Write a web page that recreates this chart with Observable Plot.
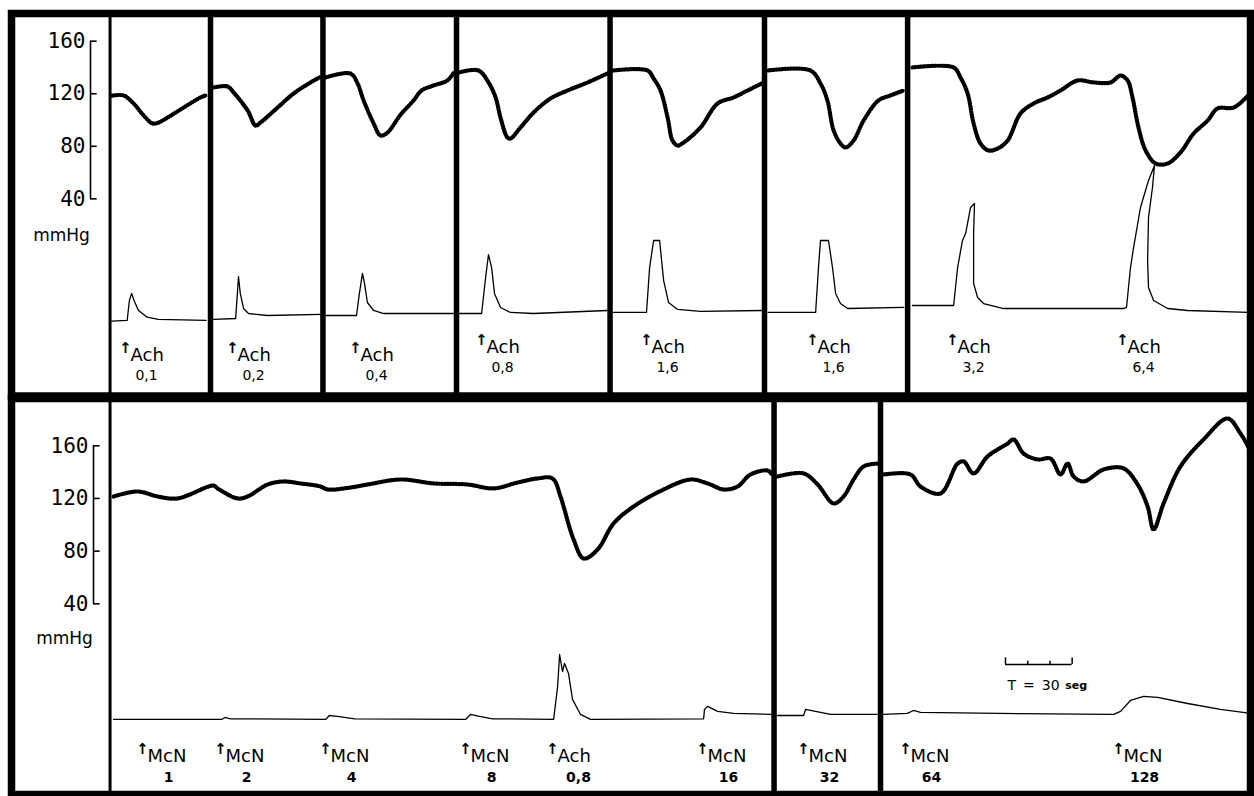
<!DOCTYPE html>
<html><head><meta charset="utf-8">
<script src="https://cdn.jsdelivr.net/npm/d3@7"></script>
<script src="https://cdn.jsdelivr.net/npm/@observablehq/plot@0.6"></script>
<style>
html,body{margin:0;padding:0;background:#fff;}
#fig{position:relative;width:1254px;height:796px;overflow:hidden;background:#fff;}
#fig svg{position:absolute;left:0;}
</style></head><body><div id="fig"></div>
<script>
// ---- Data (time along the strip in seconds, pressure in mmHg) ----
// each row: [recording segment, time s, value]
const topPressure = [
 [1,0.5,118.5],[1,5.9,118.7],[1,10.4,112.6],[1,14.9,103.5],[1,18.9,97.4],[1,21.5,98],[1,25.7,101.9],[1,32.9,109.5],[1,40.5,117.2],[1,42.8,118.7],
 [2,46.4,124.8],[2,52.7,125.5],[2,55.4,121],[2,61.7,107.3],[2,65.3,95.8],[2,67.5,98.1],[2,75.2,109.5],[2,82.4,120.2],[2,90,128.6],[2,94,132.4],
 [3,96.8,132.4],[3,108,135.4],[3,111.2,127.8],[3,113.9,114.9],[3,118.4,97.4],[3,121.5,88.2],[3,124.7,90.5],[3,130.5,104],[3,136.4,114.9],[3,140,122.5],[3,145.4,126.3],[3,151.6,130.1],[3,154.5,136.2],
 [4,156.8,136.2],[4,165.6,137.7],[4,170.1,128.6],[4,173.3,117.2],[4,175.5,101.9],[4,178.6,86.7],[4,180,85.9],[4,184.5,94.3],[4,190.4,105.7],[4,198,116.4],[4,205.7,122.5],[4,214.7,128.6],[4,223.5,135.4],
 [5,226.4,137.7],[5,241.7,137.7],[5,244.4,131.6],[5,247.5,122.5],[5,250.7,101.9],[5,252.9,84.4],[5,255.2,80.6],[5,257.9,82.9],[5,265.5,94.3],[5,273.2,112.6],[5,280.4,117.2],[5,286.7,122.5],[5,293,127.8],
 [6,295.9,137.7],[6,315,137.7],[6,319.5,127.8],[6,322.6,114.9],[6,325.4,92],[6,328.5,82.1],[6,330.8,79.1],[6,334.4,84.4],[6,338.9,99.6],[6,345.6,114.9],[6,351,118.7],[6,357,122.5],
 [7,360.9,140],[7,379.4,140],[7,382.5,132.4],[7,385.7,120.2],[7,388.4,97.4],[7,391.5,82.1],[7,395.1,76.8],[7,399.2,78.3],[7,403.7,84.4],[7,409.5,105],[7,415.4,112.6],[7,421.7,117.2],[7,427.5,122.5],[7,435.2,130.1],[7,442.4,128.6],[7,450,128.6],[7,454.5,133.9],[7,457.7,130.1],[7,459.9,117.2],[7,462.6,94.3],[7,465.8,76.8],[7,470.3,66.9],[7,475.7,66.9],[7,481.5,75.3],[7,487.4,89.7],[7,493.7,99.6],[7,498.2,108.8],[7,505.4,109.5],[7,512,118.7]
];
// lower channel (response deflection, arbitrary units above its own baseline)
const topResponse = [
 [1,0.5,-0.5],[1,7.5,0],[1,8.5,15.2],[1,9.5,20.6],[1,10.6,15.2],[1,12.6,7.6],[1,16.5,2.5],[1,21.5,0.8],[1,43,0],
 [2,46.4,0.8],[2,56.3,1.5],[2,57.1,20.6],[2,57.6,33.5],[2,58.4,20.6],[2,59.9,9.1],[2,62.1,5.3],[2,70.7,3.8],[2,94.5,4.6],
 [3,96.8,3.8],[3,110.7,3.8],[3,112,20.6],[3,113.4,35.8],[3,114.3,28.2],[3,115.6,13.7],[3,118.4,7.6],[3,122.9,5.3],[3,154.5,5.3],
 [4,156.8,5.3],[4,167,5.3],[4,168.8,32.7],[4,170.1,50.2],[4,171.5,40.3],[4,172.8,20.6],[4,175.5,9.9],[4,180,6.1],[4,190.4,5.3],[4,223.5,7.6],
 [5,226.4,6.1],[5,241.2,6.1],[5,242.6,40.3],[5,244.4,60.9],[5,247.1,60.9],[5,248.9,30.5],[5,251.1,13.7],[5,255.2,8.4],[5,265.5,6.9],[5,293,7.6],
 [6,295.9,6.1],[6,317.3,6.1],[6,318.6,40.3],[6,319.5,60.9],[6,323.1,60.9],[6,324.9,40.3],[6,326.3,20.6],[6,328.5,12.9],[6,331.7,9.1],[6,357,9.9],
 [7,360.9,11.4],[7,379.4,11.4],[7,381.2,40.3],[7,383.4,60.9],[7,384.8,66.2],[7,387,86],[7,388.8,89.1],[7,388.4,66.2],[7,388.4,28.2],[7,390.2,17.5],[7,392.9,12.9],[7,401.9,9.1],[7,455.9,9.1],[7,457.2,9.9],[7,459,40.3],[7,460.4,55.6],[7,463.5,86],[7,467.1,106.6],[7,469.8,118],[7,468.9,101.3],[7,467.1,78.4],[7,466.7,45.7],[7,467.1,25.1],[7,469.4,15.2],[7,475.7,9.1],[7,484.7,7.6],[7,512,6.1]
];
const topSplices = [-0.2, 45, 95.6, 155.7, 224.8, 294.3, 358.7];
const topInjTime = [6.75, 54.9, 110.25, 166.95, 241.2, 315.9, 378.9, 455.4];
const topInjDrug = ["Ach","Ach","Ach","Ach","Ach","Ach","Ach","Ach"];
const topInjDose = ["0,1","0,2","0,4","0,8","1,6","1,6","3,2","6,4"];

const bottomPressure = [
 [1,1.4,121.5],[1,12.2,125.3],[1,21.2,121.5],[1,30.2,120],[1,46.4,129.8],[1,48.2,127.6],[1,57.2,120],[1,61.7,121.5],[1,70.7,130.6],[1,77.9,132.9],[1,85.5,131.4],[1,94.5,129.1],[1,97.7,126.8],[1,108,128.3],[1,115.7,130.6],[1,130.5,134.4],[1,145.4,131.4],[1,160.7,130.6],[1,172.4,127.6],[1,183.2,132.1],[1,192.2,135.2],[1,198.9,135.2],[1,202.5,121.5],[1,203.9,113.9],[1,208.4,88.8],[1,212.9,74.4],[1,219.2,81.2],[1,226.4,101],[1,235.4,113.9],[1,248.9,126.8],[1,261,134.4],[1,268.7,131.4],[1,275.9,126.8],[1,282.2,129.1],[1,288,138.2],[1,295.7,141.2],[1,297.5,138.5],
 [2,300.2,136.7],[2,311.9,139],[2,318.2,130.6],[2,325.4,116.2],[2,329.9,121.5],[2,334.4,134.4],[2,338.9,144.3],[2,345,146.5],
 [3,347.9,138.2],[3,360,138.2],[3,364.5,129.1],[3,373.5,123.8],[3,381.2,146.5],[3,383.9,148.1],[3,388.4,139],[3,394.7,151.9],[3,403.7,161.7],[3,406.4,164.8],[3,410.9,154.1],[3,417.2,149.6],[3,423,150.3],[3,427.5,138.2],[3,430.7,146.5],[3,433.4,136.7],[3,437.9,132.9],[3,446.9,142],[3,455.9,142.8],[3,462.2,130.6],[3,466.7,113.9],[3,469.4,96.4],[3,473.9,116.2],[3,481.5,144.3],[3,491.9,164.8],[3,502.7,180.7],[3,508.5,169.3],[3,513,156]
];
const bottomResponse = [
 [1,1.4,0],[1,50,0],[1,51.5,1.5],[1,54,0.5],[1,96.8,0],[1,98.5,3],[1,102,2.3],[1,110,0.5],[1,159.8,0],[1,162,3.8],[1,166,2.3],[1,172,0.5],[1,199.4,0],[1,201.2,25],[1,202.1,49.3],[1,203.4,36.4],[1,204.3,42.5],[1,206.1,34.9],[1,207.9,15.2],[1,211.5,3.8],[1,216,0],[1,266.9,0.5],[1,267.3,7.6],[1,268.7,9.9],[1,273.2,6.1],[1,280.4,4.6],[1,297.5,3.8],
 [2,300.2,3],[2,311.9,3],[2,312.8,7.6],[2,319.5,5.3],[2,324,3.8],[2,345,3.8],
 [3,347.9,3.8],[3,358.6,4.6],[3,361.4,6.8],[3,364.5,5.3],[3,400,4.6],[3,451.4,3.8],[3,454.5,6.1],[3,459,14.4],[3,464.9,17.5],[3,471.2,16.7],[3,484.7,12.1],[3,499.5,7.6],[3,513,4.6]
];
const bottomSplices = [-0.2, 298.6, 346.5];
const bottomInjTime = [14.4, 49.5, 96.75, 159.75, 198.9, 266.4, 311.85, 357.75, 453.6];
const bottomInjDrug = ["McN","McN","McN","McN","Ach","McN","McN","McN","McN"];
const bottomInjDose = ["1","2","4","8","0,8","16","32","64","128"];

const yTicks = [40, 80, 120, 160];
const timeBarStart = 402.75, timeBarTicks = [0, 10, 20, 30];

// ---- Layout ----
const W = 1254;
const X_DOMAIN = [-44.55, 513];
const SANS = "DejaVu Sans";

function panel(o) {
  const idx = o.injTime.map((_, i) => i);
  const low = idx.filter(i => i < o.lowCount), high = idx.filter(i => i >= o.lowCount);
  const labelMarks = [];
  for (const [set, shift] of [[low, o.lowShift], [high, 0]]) {
    if (!set.length) continue;
    labelMarks.push(
      Plot.text(set, {x: i => o.injTime[i], frameAnchor: "bottom", lineAnchor: "bottom", text: () => "↑",
        dy: o.arrowDy + shift, fontSize: 15, fontWeight: "bold", textAnchor: "middle", fontFamily: SANS}),
      Plot.text(set, {x: i => o.injTime[i], frameAnchor: "bottom", lineAnchor: "bottom", text: i => o.injDrug[i],
        dx: 5, dy: o.drugDy + shift, fontSize: 18, textAnchor: "start", fontFamily: SANS}),
      Plot.text(set, {x: i => o.injTime[i], frameAnchor: "bottom", lineAnchor: "bottom", text: i => o.injDose[i],
        dx: o.doseDx, dy: o.doseDy + shift, fontSize: 14, fontWeight: o.doseWeight, textAnchor: "middle", fontFamily: SANS})
    );
  }
  const marks = [
    // pressure trace (thick, with pulse serration)
    Plot.line(o.pressure, {x: d => d[1], y: d => d[2], z: d => d[0], stroke: "#000", strokeWidth: 2.2, curve: "catmull-rom"}),
    Plot.line(o.pressure, {x: d => d[1], y: d => d[2], z: d => d[0], stroke: "#000", strokeWidth: 4.2, strokeDasharray: "0.8,2", curve: "catmull-rom"}),
    // response trace
    Plot.line(o.response, {x: d => d[1], y: d => o.respZero + d[2], z: d => d[0], stroke: "#000", strokeWidth: 1.3}),
    // splices
    Plot.ruleX([o.splices[0]], {stroke: "#000", strokeWidth: 3}),
    Plot.ruleX(o.splices.slice(1), {stroke: "#000", strokeWidth: 5.5}),
    Plot.frame({stroke: "#000", strokeWidth: 7.5}),
    // pressure calibration bracket
    Plot.ruleX([o.axisT], {y1: 40, y2: 160, stroke: "#000", strokeWidth: 1.6}),
    Plot.ruleY(yTicks, {y: d => d, x1: o.axisT, x2: o.axisT + 3, stroke: "#000", strokeWidth: 1.6}),
    Plot.text(yTicks, {x: o.axisT, y: d => d, text: d => String(d), textAnchor: "end", dx: -5, fontSize: 21, fontFamily: "DejaVu Sans Mono"}),
    Plot.text(["mmHg"], {x: o.axisT, y: 40, text: d => d, textAnchor: "middle", lineAnchor: "bottom", dx: -29, dy: o.unitDy, fontSize: 17, fontFamily: SANS}),
    ...labelMarks,
    ...(o.extra || [])
  ];
  const svg = Plot.plot({
    width: W, height: o.height,
    marginLeft: 11, marginRight: 4, marginTop: o.marginTop, marginBottom: o.marginBottom,
    x: {domain: X_DOMAIN, axis: null},
    y: {domain: o.yDomain, axis: null},
    style: {background: "transparent", overflow: "visible"},
    marks
  });
  svg.style.top = o.top + "px";
  return svg;
}

const fig = document.getElementById("fig");

fig.appendChild(panel({
  top: 0, height: 398, marginTop: 13, marginBottom: 2.5, yDomain: [-110.1, 181.1],
  pressure: topPressure, response: topResponse, respZero: -52.6, splices: topSplices,
  injTime: topInjTime, injDrug: topInjDrug, injDose: topInjDose,
  lowCount: 3, lowShift: 8, arrowDy: -51, drugDy: -43.5, doseDy: -24.5, doseDx: 21, doseWeight: "normal",
  axisT: -9, unitDy: 42
}));

const barY = -6.1;
fig.appendChild(panel({
  top: 398, height: 398, marginTop: 0, marginBottom: 2, yDomain: [-104.8, 195.9],
  pressure: bottomPressure, response: bottomResponse, respZero: -47.8, splices: bottomSplices,
  injTime: bottomInjTime, injDrug: bottomInjDrug, injDose: bottomInjDose,
  lowCount: 0, lowShift: 0, arrowDy: -41, drugDy: -33, doseDy: -13, doseDx: 26, doseWeight: "bold",
  axisT: -7.65, unitDy: 40,
  extra: [
    Plot.ruleY([barY], {x1: timeBarStart, x2: timeBarStart + timeBarTicks[timeBarTicks.length - 1], stroke: "#000", strokeWidth: 1.5}),
    Plot.ruleX(timeBarTicks, {x: d => timeBarStart + d, y1: barY, y2: d => barY + (d === 0 || d === 30 ? 5 : 2.5), stroke: "#000", strokeWidth: 1.5}),
    Plot.text(["T\u2002=\u200230"], {x: timeBarStart, y: barY, text: d => d, textAnchor: "start", lineAnchor: "bottom", dx: 2, dy: 25, fontSize: 14, fontFamily: SANS}),
    Plot.text(["seg"], {x: timeBarStart + 30, y: barY, text: d => d, textAnchor: "start", lineAnchor: "bottom", dx: -7, dy: 24, fontSize: 11, fontWeight: "bold", fontFamily: SANS})
  ]
}));
</script></body></html>
